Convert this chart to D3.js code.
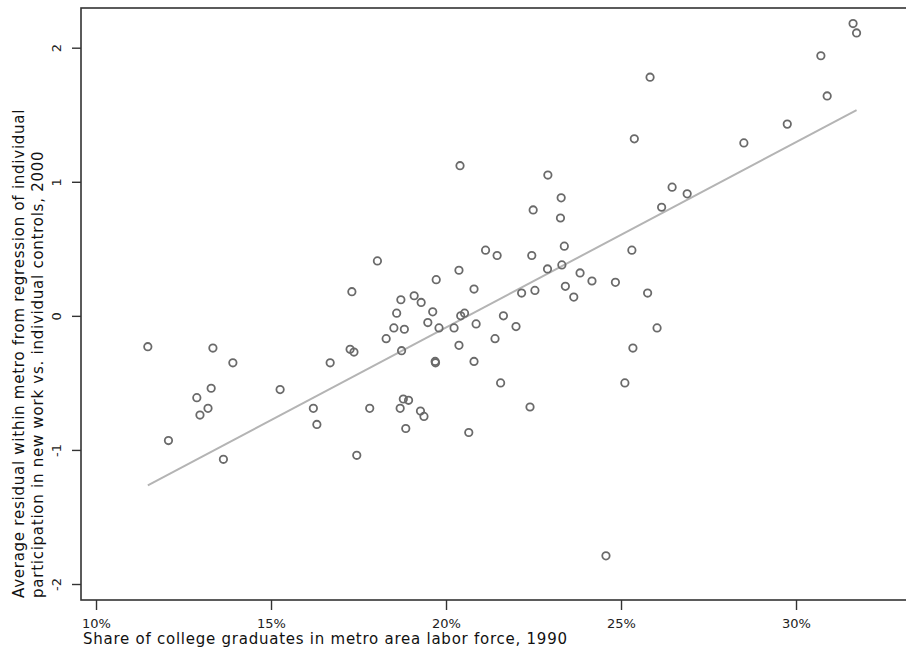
<!DOCTYPE html>
<html>
<head>
<meta charset="utf-8">
<script src="https://cdn.jsdelivr.net/npm/d3@7"></script>
<style>
  body { margin: 0; background: #fff; }
  svg { display: block; }
  .tick-label { font-family: "DejaVu Sans", sans-serif; font-size: 13px; fill: #222; }
  .axis-title { font-family: "DejaVu Sans", sans-serif; font-size: 15px; letter-spacing: 0.75px; fill: #111; }
</style>
</head>
<body>
<div id="chart"></div>
<script>
// share of college graduates in metro labor force, 1990 (%)
const collegeShare = [
  11.48, 12.07, 12.88, 12.97, 13.20, 13.29, 13.34, 13.64, 13.91, 15.26,
  16.21, 16.31, 16.69, 17.26, 17.31, 17.37, 17.45, 17.82, 18.04, 18.29,
  18.51, 18.59, 18.71, 18.73, 18.69, 18.78, 18.81, 18.85, 18.93, 19.09,
  19.29, 19.27, 19.37, 19.48, 19.62, 19.69, 19.70, 19.72, 19.80, 20.23,
  20.37, 20.37, 20.40, 20.42, 20.53, 20.65, 20.80, 20.80, 20.86, 21.13,
  21.40, 21.46, 21.56, 21.64, 22.00, 22.16, 22.40, 22.45, 22.49, 22.54,
  22.90, 22.91, 23.27, 23.29, 23.31, 23.38, 23.41, 23.65, 23.83, 24.17,
  24.57, 24.84, 25.11, 25.31, 25.34, 25.38, 25.76, 25.83, 26.03, 26.16,
  26.46, 26.89, 28.51, 29.75, 30.71, 30.89, 31.63, 31.73
];
// average residual within metro, 2000
const residual = [
  -0.23, -0.93, -0.61, -0.74, -0.69, -0.54, -0.24, -1.07, -0.35, -0.55,
  -0.69, -0.81, -0.35, -0.25, 0.18, -0.27, -1.04, -0.69, 0.41, -0.17,
  -0.09, 0.02, 0.12, -0.26, -0.69, -0.62, -0.10, -0.84, -0.63, 0.15,
  0.10, -0.71, -0.75, -0.05, 0.03, -0.34, -0.35, 0.27, -0.09, -0.09,
  0.34, -0.22, 1.12, 0.00, 0.02, -0.87, 0.20, -0.34, -0.06, 0.49,
  -0.17, 0.45, -0.50, 0.00, -0.08, 0.17, -0.68, 0.45, 0.79, 0.19,
  0.35, 1.05, 0.73, 0.88, 0.38, 0.52, 0.22, 0.14, 0.32, 0.26,
  -1.79, 0.25, -0.50, 0.49, -0.24, 1.32, 0.17, 1.78, -0.09, 0.81,
  0.96, 0.91, 1.29, 1.43, 1.94, 1.64, 2.18, 2.11
];
// fitted line endpoints
const fitX = [11.48, 31.73];
const fitY = [-1.265, 1.535];

const xTicks = [10, 15, 20, 25, 30];
const yTicks = [-2, -1, 0, 1, 2];
const xTitle = "Share of college graduates in metro area labor force, 1990";
const yTitle = [
  "Average residual within metro from regression of individual",
  "participation in new work vs. individual controls, 2000"
];

const width = 906, height = 653;
const plot = { left: 81, top: 8, right: 921, bottom: 600 };

const svg = d3.select("#chart").append("svg")
  .attr("width", width)
  .attr("height", height);

const x = d3.scaleLinear()
  .domain([9.571, 33.571])
  .range([plot.left, plot.right]);

const y = d3.scaleLinear()
  .domain([-2.1193, 2.2961])
  .range([plot.bottom, plot.top]);

// fitted line
svg.append("line")
  .attr("x1", x(fitX[0])).attr("y1", y(fitY[0]))
  .attr("x2", x(fitX[1])).attr("y2", y(fitY[1]))
  .attr("stroke", "#b4b4b4")
  .attr("stroke-width", 2);

// points
svg.append("g")
  .selectAll("circle")
  .data(collegeShare.map((v, i) => ({ x: v, y: residual[i] })))
  .join("circle")
  .attr("cx", d => x(d.x))
  .attr("cy", d => y(d.y))
  .attr("r", 3.7)
  .attr("fill", "none")
  .attr("stroke", "#6a6a6a")
  .attr("stroke-width", 1.8);

// frame
svg.append("rect")
  .attr("x", plot.left)
  .attr("y", plot.top)
  .attr("width", plot.right - plot.left)
  .attr("height", plot.bottom - plot.top)
  .attr("fill", "none")
  .attr("stroke", "#333")
  .attr("stroke-width", 1.6);

// x axis
const xAxis = svg.append("g")
  .attr("transform", `translate(0,${plot.bottom})`)
  .call(d3.axisBottom(x).tickValues(xTicks).tickSize(10).tickFormat(d => d + "%"));
xAxis.select(".domain").remove();
xAxis.selectAll(".tick line").attr("stroke", "#333").attr("stroke-width", 1.4);
xAxis.selectAll(".tick text")
  .attr("class", "tick-label")
  .attr("fill", null)
  .attr("y", 0)
  .attr("dy", 28);

// y axis
const yAxis = svg.append("g")
  .attr("transform", `translate(${plot.left},0)`)
  .call(d3.axisLeft(y).tickValues(yTicks).tickSize(9).tickFormat(d => String(d)));
yAxis.select(".domain").remove();
yAxis.selectAll(".tick line").attr("stroke", "#333").attr("stroke-width", 1.4);
yAxis.selectAll(".tick text")
  .attr("class", "tick-label")
  .attr("fill", null)
  .attr("x", null).attr("dy", null)
  .attr("text-anchor", "middle")
  .attr("transform", "translate(-20,0) rotate(-90)");

// axis titles
svg.append("text")
  .attr("class", "axis-title")
  .attr("x", 83)
  .attr("y", 644)
  .text(xTitle);

svg.append("g")
  .attr("transform", "translate(24,598) rotate(-90)")
  .selectAll("text")
  .data(yTitle)
  .join("text")
  .attr("class", "axis-title")
  .attr("x", 0)
  .attr("y", (d, i) => i * 19)
  .text(d => d);
</script>
</body>
</html>
